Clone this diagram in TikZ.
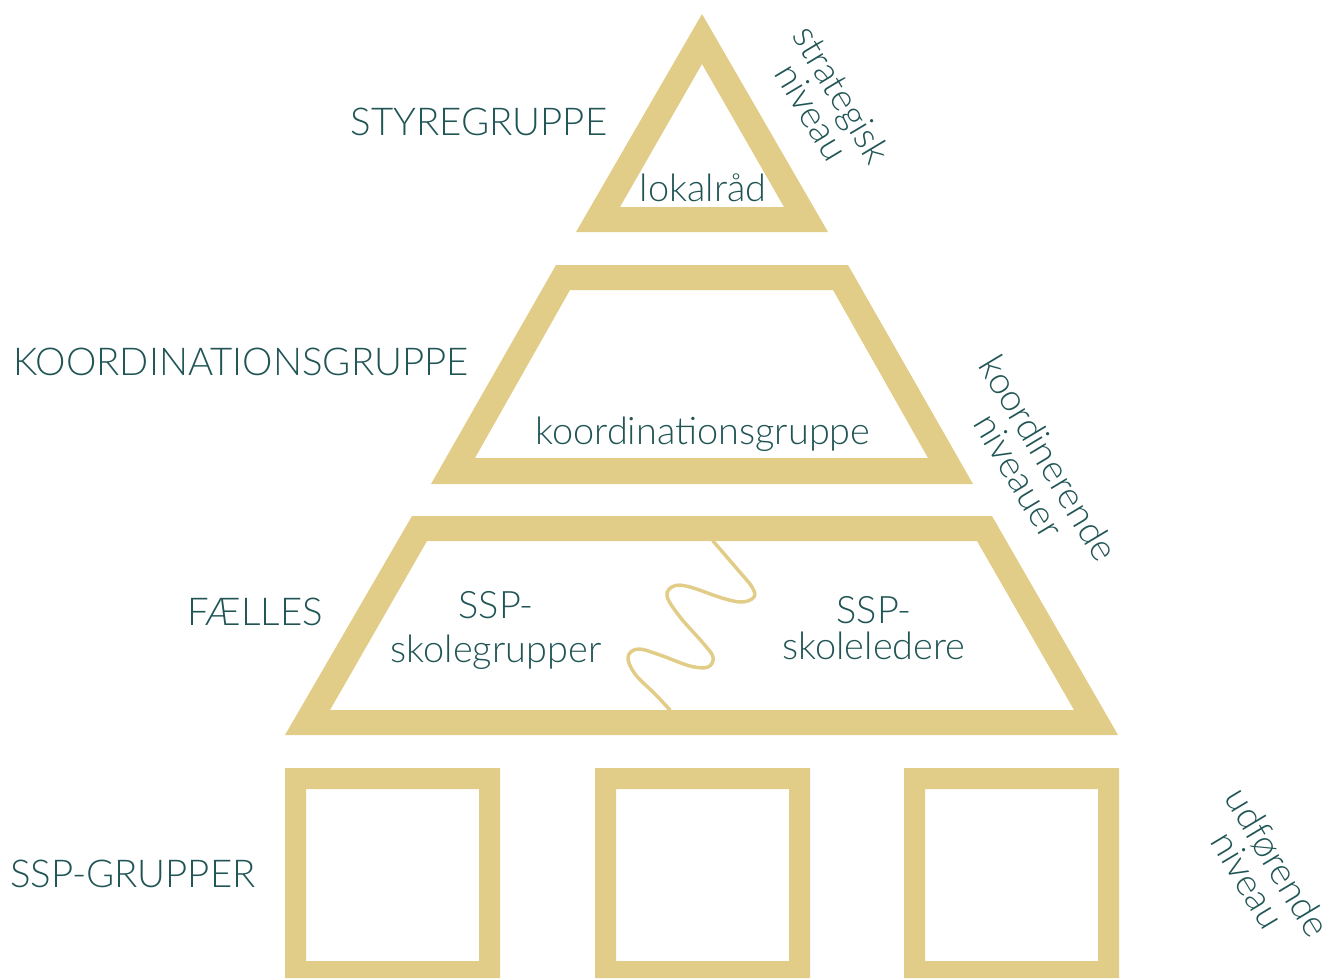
\documentclass[tikz,border=0pt]{standalone}
\usepackage{fontspec}
\setmainfont{Lato Light}
\definecolor{gold}{RGB}{225,204,136}
\definecolor{teal}{RGB}{33,85,85}
\begin{document}
\begin{tikzpicture}[x=0.75pt,y=-0.75pt,
  band/.style={fill=gold,even odd rule},
  biglabel/.style={text=teal,font=\fontsize{28.8}{34}\selectfont,inner sep=0pt},
  inlabel/.style={text=teal,font=\fontsize{28.4}{33}\selectfont,inner sep=0pt,align=center},
  sidelabel/.style={text=teal,font=\fontsize{28}{26}\selectfont,inner sep=0pt,align=center,rotate=-59}]
\useasboundingbox (0,0) rectangle (1326,978);
% top triangle
\path[band] (702,14) -- (828,232) -- (576,232) -- cycle
            (702,64) -- (784,207) -- (620,207) -- cycle;
% trapezoid 1
\path[band] (556,265) -- (848,265) -- (973,484) -- (431,484) -- cycle
            (570,290) -- (833,290) -- (928,458) -- (475,458) -- cycle;
% trapezoid 2
\path[band] (412,516) -- (992,516) -- (1118,735) -- (285,735) -- cycle
            (427,541) -- (977,541) -- (1074,710) -- (330,710) -- cycle;
% squares
\foreach \x in {285,595,904}{
  \path[band] (\x,768) rectangle ++(215,210)
              (\x+21,789) rectangle ++(173,172);
}
% wave
\draw[gold,line width=2.6pt,line cap=round] plot[smooth,tension=0.6] coordinates {
 (713,541) (738,570) (752,587) (754,597) (742,602) (722,598) (690,587) (674,586) (667,596)
 (680,617) (703,643) (713,657) (708,667) (690,666) (660,655) (638,649) (628,657)
 (635,674) (655,694) (670,710)};
% labels
\node[biglabel] (sty) at (479,122) {STYREGRUPPE};
\node[biglabel] (koo) at (241,362) {KOORDINATIONSGRUPPE};
\node[biglabel] (fae) at (255,612) {FÆLLES};
\node[biglabel] (ssp) at (133,874) {SSP-GRUPPER};
\node[inlabel] (lok) at (703,188) {lokalråd};
\node[inlabel] (kg) at (703,434) {koordinationsgruppe};
\node[inlabel] (sk) at (496,630) {SSP-\\skolegrupper};
\node[inlabel,font=\fontsize{28.4}{27}\selectfont] (sl) at (874,628) {SSP-\\skoleledere};
\node[sidelabel] (stn) at (827,103) {strategisk\\niveau};
\node[sidelabel] (kon) at (1034,467) {koordinerende\\niveauer};
\node[sidelabel] (udn) at (1263,871) {udførende\\niveau};
\end{tikzpicture}
\end{document}
